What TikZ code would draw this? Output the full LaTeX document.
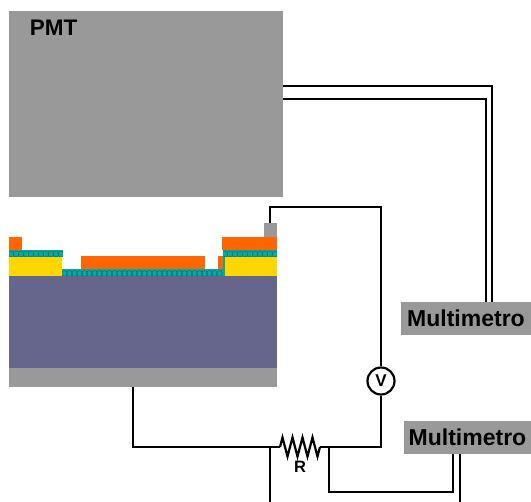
\documentclass[tikz,border=0pt]{standalone}
\usepackage{fontspec}
\setmainfont{Liberation Sans}
\usetikzlibrary{positioning}
\usetikzlibrary{decorations.pathmorphing}
\definecolor{boxgray}{RGB}{153,153,153}
\definecolor{substrate}{RGB}{102,102,141}
\definecolor{contact}{RGB}{255,102,0}
\definecolor{gold}{RGB}{255,214,0}
\definecolor{film}{RGB}{0,170,165}
\definecolor{filmdark}{RGB}{30,100,100}
\tikzset{
    wire/.style={draw=black, line width=2.2pt, line join=miter},
    layer/.style={inner sep=0pt, outer sep=0pt, anchor=north west},
    meter/.style={fill=boxgray, inner sep=0pt, outer sep=0pt, font=\bfseries\fontsize{23}{23}\selectfont}
}
\newcommand*{\FilmBeads}[4]{\foreach \i in {#1,#2,...,#3} {\draw[filmdark, line width=0.4pt] (\i,#4) circle (2.9);}}
\begin{document}
\begin{tikzpicture}[x=1pt,y=-1pt]
\useasboundingbox (0,0) rectangle (531,502);
 % Detector
 \node[layer, fill=boxgray, minimum width=274pt, minimum height=186pt] (pmt) at (9,11) {};
 \node[font=\bfseries\fontsize{22.5}{22.5}\selectfont] (pmtlabel) at (53.5,28) {PMT};

 % Device layers
 \fill[substrate] (9,276) rectangle (277,368);
 \fill[boxgray] (9,368) rectangle (277,387);
 \coordinate (back) at (133,387);
 \fill[film] (62,269.5) rectangle (225,276);
 \begin{scope}
 \clip (62,269.5) rectangle (225,276);
 \FilmBeads{64.5}{69.5}{224}{273.5}
 \end{scope}
 \fill[contact] (81,256) rectangle (205,269.5);
 \fill[contact] (218,256) rectangle (224,269.5);

 % Left stack
 \fill[gold] (9,257) rectangle (62,276);
 \fill[film] (9,250) rectangle (63,257);
 \begin{scope}
 \clip (9,250) rectangle (63,257);
 \FilmBeads{11}{16}{62}{254}
 \end{scope}
 \fill[contact] (9,237) rectangle (22,250);

 % Right stack
 \fill[gold] (225,257) rectangle (277,276);
 \fill[film] (223,250) rectangle (277,257);
 \fill[film] (223,257) rectangle (225,270);
 \begin{scope}
 \clip (223,250) rectangle (277,257);
 \FilmBeads{225}{230}{277}{254}
 \end{scope}
 \fill[contact] (221.5,237) rectangle (277,250);
 \node[layer, fill=boxgray, minimum width=13pt, minimum height=14pt] (pad) at (264,223) {};

 % Meters
 \node[meter, minimum width=130pt, minimum height=33pt] (meterA) at (466,318.5) {Multimetro};
 \node[meter, minimum width=127pt, minimum height=33pt] (meterB) at (467.5,437.5) {Multimetro};
 \node[circle, draw, line width=2.2pt, fill=white, minimum size=27pt, inner sep=0pt,
    font=\bfseries\fontsize{17}{17}\selectfont] (volt) at (381,381) {V};

 % Resistor
 \coordinate (resL) at (280,447);
 \coordinate (resR) at (320,447);
 \node[font=\bfseries\fontsize{16.5}{16.5}\selectfont] (rlabel) at (300,467) {R};
 \draw[wire, decorate, decoration={zigzag, segment length=10pt, amplitude=9.5pt}] (resL) -- (resR);

 % Wires
 \draw[wire] (pmt.east |- 0,86) -- (492,86) -- (492,302);
 \draw[wire] (pmt.east |- 0,99) -- (486,99) -- (486,302);
 \draw[wire] (270,223) -- (270,207) -- (381,207) -- (volt.north);
 \draw[wire] (volt.south) -- (381,447) -- (resR);
 \draw[wire] (back) -- (133,447) -- (resL);
 \draw[wire] (270,447) -- (270,502);
 \draw[wire] (329,447) -- (329,492) -- (453,492) -- (453,454);
 \draw[wire] (460,454) -- (460,502);
\end{tikzpicture}
\end{document}
